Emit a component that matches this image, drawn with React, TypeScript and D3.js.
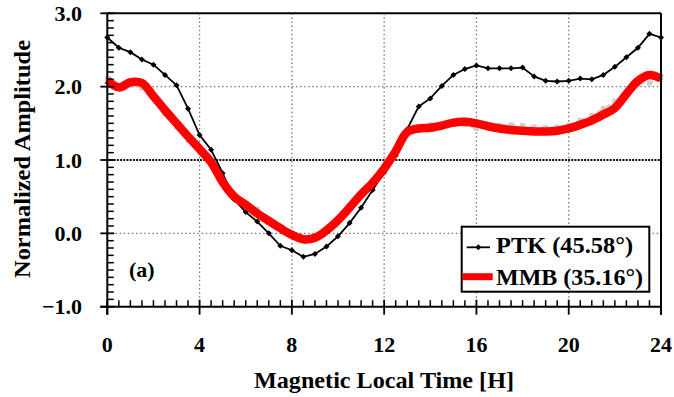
import React from "react";
import * as d3 from "d3";

const hours: number[] = d3.range(0, 24.01, 0.5);

const ptk: number[] = [
  2.67, 2.53, 2.47, 2.37, 2.30, 2.16, 2.02, 1.70, 1.34, 1.14,
  0.82, 0.46, 0.29, 0.16, 0.00, -0.17, -0.23, -0.32, -0.28, -0.18,
  -0.04, 0.14, 0.35, 0.59, 0.83, 1.06, 1.42, 1.73, 1.84, 2.01,
  2.16, 2.24, 2.29, 2.25, 2.25, 2.25, 2.26, 2.14, 2.08, 2.07,
  2.08, 2.11, 2.10, 2.16, 2.27, 2.40, 2.53, 2.72, 2.67,
];

const mmb: number[] = [
  2.09, 1.99, 2.06, 2.05, 1.87, 1.68, 1.50, 1.32, 1.15, 0.97,
  0.70, 0.50, 0.39, 0.27, 0.17, 0.07, -0.02, -0.08, -0.06, 0.04,
  0.18, 0.35, 0.53, 0.69, 0.88, 1.12, 1.38, 1.43, 1.44, 1.47,
  1.51, 1.52, 1.50, 1.46, 1.43, 1.41, 1.40, 1.39, 1.39, 1.40,
  1.43, 1.48, 1.54, 1.62, 1.71, 1.90, 2.08, 2.16, 2.11,
];

const mmbAlt: number[] = [
  2.11, 2.02, 2.02, 1.98, 1.86, 1.64, 1.45, 1.27, 1.10, 0.95,
  0.70, 0.50, 0.40, 0.33, 0.18, 0.08, 0.00, -0.07, -0.05, 0.05,
  0.18, 0.36, 0.55, 0.72, 0.90, 1.14, 1.38, 1.45, 1.48, 1.48,
  1.49, 1.48, 1.43, 1.45, 1.47, 1.48, 1.47, 1.45, 1.44, 1.45,
  1.47, 1.54, 1.61, 1.70, 1.80, 1.92, 2.03, 2.05, 2.12,
];

const xTicks: number[] = [0, 4, 8, 12, 16, 20, 24];
const yTicks: number[] = [-1, 0, 1, 2, 3];
const seriesNames: string[] = ["PTK (45.58°)", "MMB (35.16°)"];
const panelLabel = "(a)";
const xTitle = "Magnetic Local Time [H]";
const yTitle = "Normalized Amplitude";

const W = 674;
const H = 397;
const FONT = "'Liberation Serif', 'Times New Roman', serif";

export default function App() {
  const x = d3.scaleLinear().domain([0, 24]).range([107.3, 661]);
  const y = d3.scaleLinear().domain([-1, 3]).range([306.7, 13.3]);

  const lineLin = d3
    .line<[number, number]>()
    .x((d) => x(d[0]))
    .y((d) => y(d[1]));
  const lineSmooth = d3
    .line<[number, number]>()
    .x((d) => x(d[0]))
    .y((d) => y(d[1]))
    .curve(d3.curveCatmullRom.alpha(0.5));

  const ptkPts: [number, number][] = hours.map((h, i) => [h, ptk[i]]);
  const mmbPts: [number, number][] = hours.map((h, i) => [h, mmb[i]]);
  const altPts: [number, number][] = hours.map((h, i) => [h, mmbAlt[i]]);

  const xMinor = d3.range(0, 24.01, 0.5).filter((v) => Math.abs(v % 4) > 1e-6);
  const yMinor = d3
    .range(-1, 3.001, 0.1)
    .filter((v) => Math.abs(v - Math.round(v)) > 1e-6);

  const x0 = x(0), x1 = x(24), yb = y(-1), yt = y(3);

  const diamond = (cx: number, cy: number, r: number) =>
    `M${cx},${cy - r}L${cx + r},${cy}L${cx},${cy + r}L${cx - r},${cy}Z`;

  return (
    <svg
      width={W}
      height={H}
      style={{ position: "absolute", left: 0, top: 0, background: "#fff" }}
      fontFamily={FONT}
    >
      <rect x={0} y={0} width={W} height={H} fill="#fff" />
      {/* vertical grid */}
      {xTicks.slice(1, -1).map((t) => (
        <line
          key={"gx" + t}
          x1={x(t)}
          x2={x(t)}
          y1={yt}
          y2={yb}
          stroke="#777"
          strokeWidth={1.3}
          strokeDasharray="1.5,2.6"
        />
      ))}
      {/* horizontal grid */}
      {[0, 2].map((t) => (
        <line
          key={"gy" + t}
          x1={x0}
          x2={x1}
          y1={y(t)}
          y2={y(t)}
          stroke="#777"
          strokeWidth={1.3}
          strokeDasharray="1.5,2.6"
        />
      ))}
      <line
        x1={x0}
        x2={x1}
        y1={y(1)}
        y2={y(1)}
        stroke="#111"
        strokeWidth={1.8}
        strokeDasharray="2,1.2"
      />

      {/* gray underlying series */}
      <path
        d={lineSmooth(altPts) || ""}
        fill="none"
        stroke="#d2d2d2"
        strokeWidth={2}
        strokeDasharray="5,5"
      />
      {altPts.map((p, i) => (
        <rect
          key={"a" + i}
          x={x(p[0]) - 2.5}
          y={y(p[1]) - 2.5}
          width={5}
          height={5}
          fill="#cccccc"
        />
      ))}

      {/* PTK */}
      <path
        d={lineLin(ptkPts) || ""}
        fill="none"
        stroke="#000"
        strokeWidth={1.8}
      />
      {ptkPts.map((p, i) => (
        <path key={"p" + i} d={diamond(x(p[0]), y(p[1]), 3)} fill="#000" />
      ))}

      {/* MMB */}
      <path
        d={lineSmooth(mmbPts) || ""}
        fill="none"
        stroke="#ff0000"
        strokeWidth={8.5}
        strokeLinejoin="round"
        strokeLinecap="butt"
      />

      {/* frame */}
      <line x1={x0} x2={x1} y1={yt} y2={yt} stroke="#000" strokeWidth={2} />
      <line x1={x1} x2={x1} y1={yt} y2={yb + 8} stroke="#000" strokeWidth={2} />
      <line x1={x0} x2={x0} y1={yt} y2={yb + 8} stroke="#000" strokeWidth={2} />
      <line x1={x0 - 7} x2={x1} y1={yb} y2={yb} stroke="#000" strokeWidth={2} />

      {/* y ticks */}
      {yTicks.map((t) => (
        <line
          key={"yt" + t}
          x1={x0 - 7}
          x2={x0 + 7}
          y1={y(t)}
          y2={y(t)}
          stroke="#000"
          strokeWidth={1.8}
        />
      ))}
      {yMinor.map((t, i) => (
        <line
          key={"ym" + i}
          x1={x0}
          x2={x0 + 6.5}
          y1={y(t)}
          y2={y(t)}
          stroke="#000"
          strokeWidth={1.5}
        />
      ))}
      {/* x ticks */}
      {xTicks.map((t) => (
        <line
          key={"xt" + t}
          x1={x(t)}
          x2={x(t)}
          y1={yb - 7}
          y2={yb + 8}
          stroke="#000"
          strokeWidth={1.8}
        />
      ))}
      {xMinor.map((t, i) => (
        <line
          key={"xm" + i}
          x1={x(t)}
          x2={x(t)}
          y1={yb}
          y2={yb - 6.5}
          stroke="#000"
          strokeWidth={1.5}
        />
      ))}

      {/* tick labels */}
      {yTicks.map((t) => (
        <text
          key={"yl" + t}
          x={82}
          y={y(t) + 7.5}
          textAnchor="end"
          fontSize={22}
          fontWeight="bold"
        >
          {d3.format(".1f")(t)}
        </text>
      ))}
      {xTicks.map((t) => (
        <text
          key={"xl" + t}
          x={x(t)}
          y={351.5}
          textAnchor="middle"
          fontSize={22}
          fontWeight="bold"
        >
          {t}
        </text>
      ))}

      {/* titles */}
      <text
        x={384}
        y={388}
        textAnchor="middle"
        fontSize={23}
        fontWeight="bold"
        textLength={260}
        lengthAdjust="spacingAndGlyphs"
      >
        {xTitle}
      </text>
      <text
        transform="translate(30,159) rotate(-90)"
        textAnchor="middle"
        fontSize={23}
        fontWeight="bold"
        textLength={238}
        lengthAdjust="spacingAndGlyphs"
      >
        {yTitle}
      </text>

      <text x={129} y={277} fontSize={22} fontWeight="bold">
        {panelLabel}
      </text>

      {/* legend */}
      <rect
        x={461.7}
        y={226.7}
        width={187.6}
        height={65}
        fill="#fff"
        stroke="#000"
        strokeWidth={2}
      />
      <line x1={466.7} x2={490} y1={247.3} y2={247.3} stroke="#000" strokeWidth={1.8} />
      <path d={diamond(478.3, 247.3, 3)} fill="#000" />
      <line x1={462.7} x2={492.7} y1={276.7} y2={276.7} stroke="#ff0000" strokeWidth={7} />
      <text
        x={496}
        y={253}
        fontSize={23}
        fontWeight="bold"
        textLength={137}
        lengthAdjust="spacingAndGlyphs"
      >
        {seriesNames[0]}
      </text>
      <text
        x={496}
        y={285}
        fontSize={23}
        fontWeight="bold"
        textLength={147}
        lengthAdjust="spacingAndGlyphs"
      >
        {seriesNames[1]}
      </text>
    </svg>
  );
}
